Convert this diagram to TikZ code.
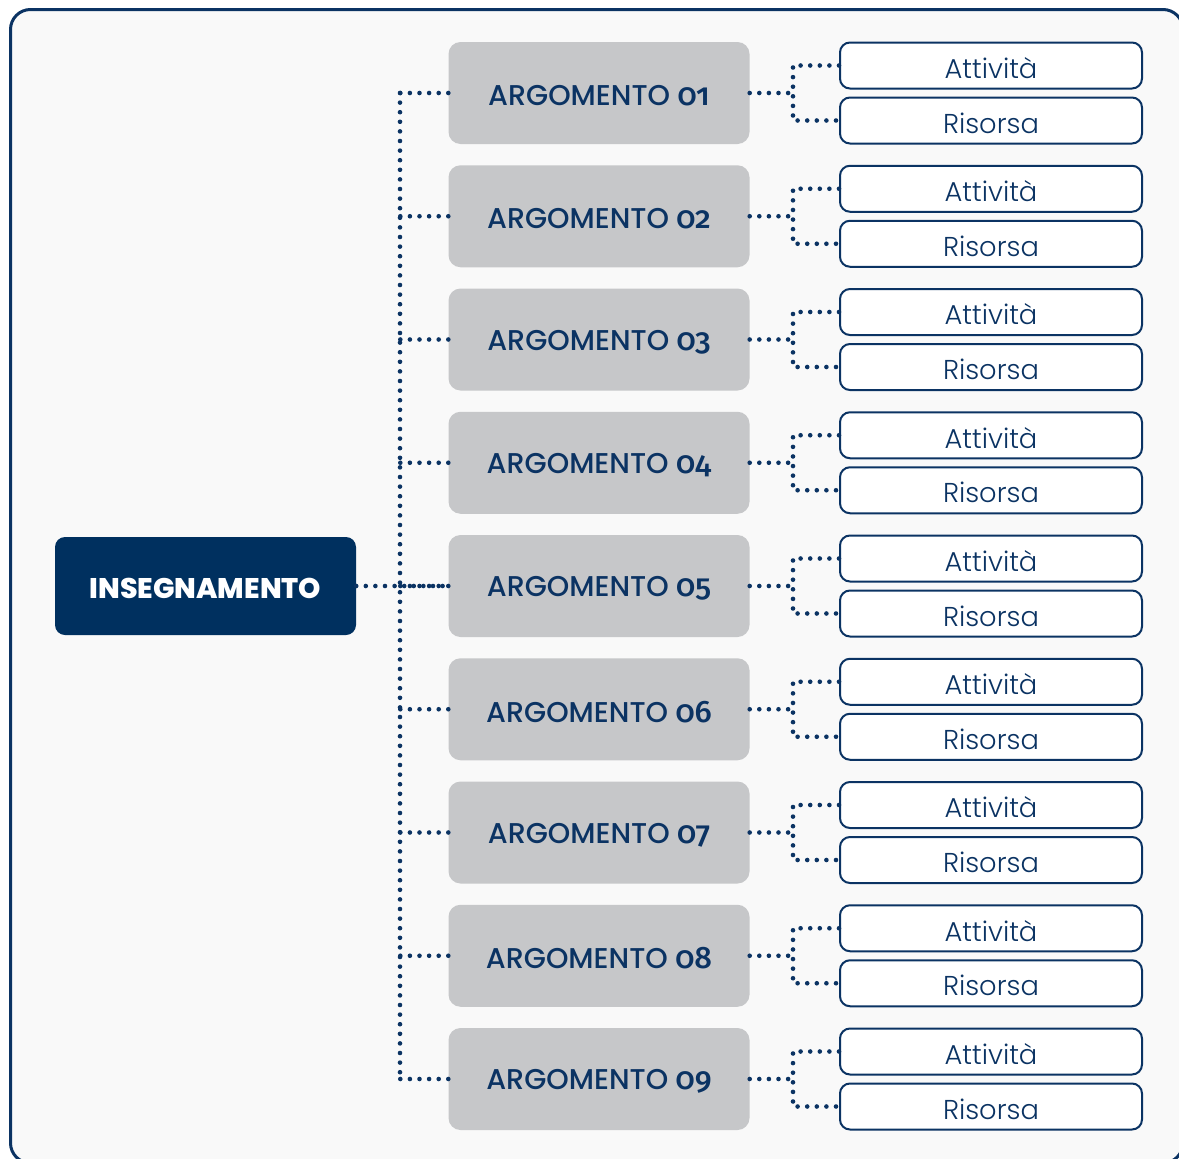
\documentclass[tikz,border=0pt]{standalone}
\usepackage{fontspec}
\setmainfont{Poppins}
\newfontfamily\fmed{Poppins Medium}
\newfontfamily\fdig{Fira Sans Medium}[Numbers=OldStyle]
\newfontfamily\fbold{Poppins ExtraBold}
\newfontfamily\flight{Poppins Light}
\definecolor{navy}{HTML}{0B3363}
\definecolor{navyfill}{HTML}{00305F}
\definecolor{argfill}{HTML}{C6C7C9}
\definecolor{bgfill}{HTML}{F9F9F9}
\newcommand{\lowr}[1]{\raisebox{-2.5pt}[\height][\depth]{#1}}
\tikzset{
  mainbox/.style={fill=navyfill, rounded corners=10pt, minimum width=301pt, minimum height=98pt, text=white, font=\fbold\fontsize{28.4}{30}\selectfont, inner sep=0pt},
  argbox/.style={fill=argfill, rounded corners=12pt, minimum width=301pt, minimum height=102pt, text=navy, font=\fmed\fontsize{28.6}{30}\selectfont, inner sep=0pt},
  leafbox/.style={draw=navy, line width=2pt, fill=white, rounded corners=10pt, minimum width=302pt, minimum height=46pt, text=navy, font=\flight\fontsize{27.3}{30}\selectfont, inner sep=0pt},
  dots/.style={draw=navy, line width=4.6pt, line cap=round, dash pattern=on 0pt off 9.6pt}
}
\begin{document}
\begin{tikzpicture}[x=1pt,y=-1pt]
\useasboundingbox (0,0) rectangle (1179,1159);
\fill[white] (0,0) rectangle (1179,1159);
\begin{scope}
\clip (0,0) rectangle (1179,1159);
\draw[navy, line width=3pt, fill=bgfill, rounded corners=20pt] (10.5,9.5) rectangle (1183,1163);
\end{scope}
\node[mainbox] (ins) at (205.5,586) {\lowr{INSEGNAMENTO}};
\foreach \i/\n in {1/01,2/02,3/03,4/04,5/05,6/06,7/07,8/08,9/09} {
  \pgfmathsetmacro{\yy}{93+123.25*(\i-1)}
  \node[argbox] (arg\i) at (599,\yy) {\lowr{ARGOMENTO {\fdig\fontsize{31}{30}\selectfont\n}}};
  \node[leafbox] (act\i) at (991,\yy-27.5) {\lowr{Attività}};
  \node[leafbox] (res\i) at (991,\yy+27.5) {\lowr{Risorsa}};
  \coordinate (t\i) at (400,\yy);
  \coordinate (b\i) at (793,\yy);
  \draw[dots] (arg\i.west) -- (t\i);
  \draw[dots] (arg\i.east) -- (b\i);
  \draw[dots] (act\i.west) -| (b\i) |- (res\i.west);
}
\draw[dots] (t1) -- (t9);
\draw[dots] (ins.east) -- (arg5.west);
\end{tikzpicture}
\end{document}
